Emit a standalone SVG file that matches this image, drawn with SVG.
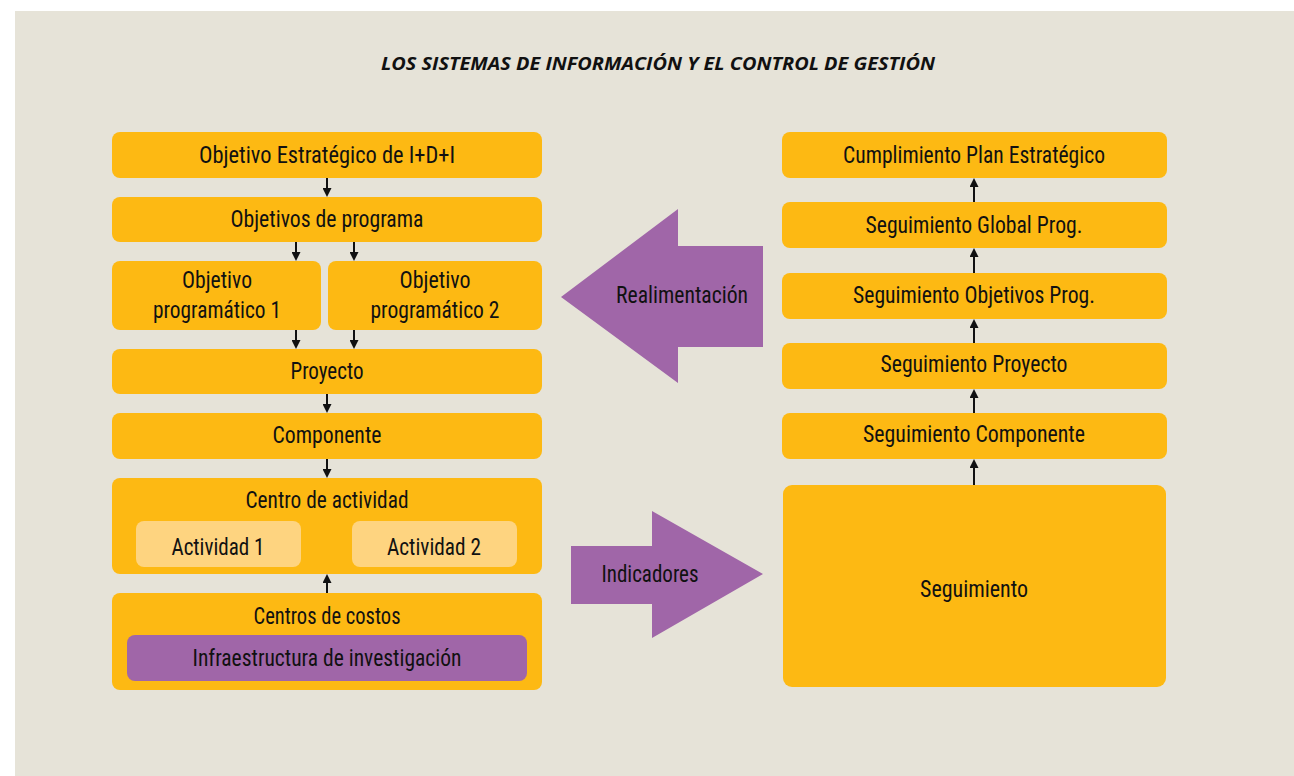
<svg xmlns="http://www.w3.org/2000/svg" width="1294" height="776" viewBox="0 0 1294 776">
  <defs>
    <style>
      .box { fill: #FDB913; }
      .sub { fill: #FED480; }
      .pur { fill: #A066A8; }
      .lbl { font-family: "Liberation Sans Narrow", "Roboto Condensed", "DejaVu Sans Condensed", "Liberation Sans", sans-serif; font-size: 24px; fill: #111; text-anchor: middle; }
      .ttl { font-family: "Open Sans", "Liberation Sans", sans-serif; font-size: 17px; font-weight: bold; font-style: italic; fill: #111; text-anchor: middle; }
      .con { stroke: #111; stroke-width: 2; fill: none; marker-end: url(#ah); }
    </style>
    <marker id="ah" viewBox="0 0 10 10" refX="7" refY="5" markerUnits="userSpaceOnUse" markerWidth="9" markerHeight="9" orient="auto">
      <path d="M0,0 L10,5 L0,10 z" fill="#111"/>
    </marker>
  </defs>

  <!-- page background -->
  <rect x="0" y="0" width="1294" height="776" fill="#ffffff"/>
  <rect x="15" y="11" width="1279" height="765" fill="#E6E3D8"/>

  <text class="ttl" x="658" y="70" textLength="554" lengthAdjust="spacingAndGlyphs">LOS SISTEMAS DE INFORMACIÓN Y EL CONTROL DE GESTIÓN</text>

  <!-- left column: planning hierarchy -->
  <g id="obj-estrategico">
    <rect class="box" x="112" y="132" width="430" height="46" rx="8"/>
    <text class="lbl" x="327" y="163" textLength="256" lengthAdjust="spacingAndGlyphs">Objetivo Estratégico de I+D+I</text>
  </g>
  <g id="obj-programa">
    <rect class="box" x="112" y="197" width="430" height="45" rx="8"/>
    <text class="lbl" x="327" y="227" textLength="193" lengthAdjust="spacingAndGlyphs">Objetivos de programa</text>
  </g>
  <g id="obj-prog-1">
    <rect class="box" x="112" y="261" width="209" height="69" rx="8"/>
    <text class="lbl" x="217" y="288" textLength="70" lengthAdjust="spacingAndGlyphs">Objetivo</text>
    <text class="lbl" x="217" y="318" textLength="128" lengthAdjust="spacingAndGlyphs">programático 1</text>
  </g>
  <g id="obj-prog-2">
    <rect class="box" x="328" y="261" width="214" height="69" rx="8"/>
    <text class="lbl" x="435" y="288" textLength="71" lengthAdjust="spacingAndGlyphs">Objetivo</text>
    <text class="lbl" x="435" y="318" textLength="129" lengthAdjust="spacingAndGlyphs">programático 2</text>
  </g>
  <g id="proyecto">
    <rect class="box" x="112" y="349" width="430" height="45" rx="8"/>
    <text class="lbl" x="327" y="379" textLength="73" lengthAdjust="spacingAndGlyphs">Proyecto</text>
  </g>
  <g id="componente">
    <rect class="box" x="112" y="413" width="430" height="46" rx="8"/>
    <text class="lbl" x="327" y="443" textLength="109" lengthAdjust="spacingAndGlyphs">Componente</text>
  </g>
  <g id="centro-actividad">
    <rect class="box" x="112" y="478" width="430" height="96" rx="8"/>
    <text class="lbl" x="327" y="508" textLength="163" lengthAdjust="spacingAndGlyphs">Centro de actividad</text>
    <rect class="sub" x="136" y="521" width="165" height="46" rx="8"/>
    <text class="lbl" x="218" y="555" textLength="93" lengthAdjust="spacingAndGlyphs">Actividad 1</text>
    <rect class="sub" x="352" y="521" width="165" height="46" rx="8"/>
    <text class="lbl" x="434" y="555" textLength="94" lengthAdjust="spacingAndGlyphs">Actividad 2</text>
  </g>
  <g id="centros-costos">
    <rect class="box" x="112" y="593" width="430" height="97" rx="8"/>
    <text class="lbl" x="327" y="624" textLength="147" lengthAdjust="spacingAndGlyphs">Centros de costos</text>
    <rect class="pur" x="127" y="635" width="400" height="46" rx="8"/>
    <text class="lbl" x="327" y="666" textLength="269" lengthAdjust="spacingAndGlyphs">Infraestructura de investigación</text>
  </g>

  <!-- big block arrows between the columns -->
  <g id="realimentacion">
    <polygon class="pur" points="561,297 678,209 678,246 763,246 763,347 678,347 678,383"/>
    <text class="lbl" x="682" y="303" textLength="132" lengthAdjust="spacingAndGlyphs">Realimentación</text>
  </g>
  <g id="indicadores">
    <polygon class="pur" points="571,546 652,546 652,511 763,574 652,638 652,604 571,604"/>
    <text class="lbl" x="650" y="582" textLength="97" lengthAdjust="spacingAndGlyphs">Indicadores</text>
  </g>

  <!-- right column: monitoring -->
  <g id="cumplimiento">
    <rect class="box" x="782" y="132" width="385" height="46" rx="8"/>
    <text class="lbl" x="974" y="163" textLength="262" lengthAdjust="spacingAndGlyphs">Cumplimiento Plan Estratégico</text>
  </g>
  <g id="seg-global">
    <rect class="box" x="782" y="202" width="385" height="46" rx="8"/>
    <text class="lbl" x="974" y="233" textLength="217" lengthAdjust="spacingAndGlyphs">Seguimiento Global Prog.</text>
  </g>
  <g id="seg-objetivos">
    <rect class="box" x="782" y="273" width="385" height="46" rx="8"/>
    <text class="lbl" x="974" y="303" textLength="242" lengthAdjust="spacingAndGlyphs">Seguimiento Objetivos Prog.</text>
  </g>
  <g id="seg-proyecto">
    <rect class="box" x="782" y="343" width="385" height="46" rx="8"/>
    <text class="lbl" x="974" y="372" textLength="187" lengthAdjust="spacingAndGlyphs">Seguimiento Proyecto</text>
  </g>
  <g id="seg-componente">
    <rect class="box" x="782" y="413" width="385" height="46" rx="8"/>
    <text class="lbl" x="974" y="442" textLength="222" lengthAdjust="spacingAndGlyphs">Seguimiento Componente</text>
  </g>
  <g id="seguimiento">
    <rect class="box" x="783" y="485" width="383" height="202" rx="9"/>
    <text class="lbl" x="974" y="597" textLength="108" lengthAdjust="spacingAndGlyphs">Seguimiento</text>
  </g>

  <!-- connectors -->
  <g id="connectors">
    <line class="con" x1="327" y1="178" x2="327" y2="194.3"/>
    <line class="con" x1="296" y1="242" x2="296" y2="258.3"/>
    <line class="con" x1="354" y1="242" x2="354" y2="258.3"/>
    <line class="con" x1="296" y1="330" x2="296" y2="346.3"/>
    <line class="con" x1="354" y1="330" x2="354" y2="346.3"/>
    <line class="con" x1="327" y1="394" x2="327" y2="410.3"/>
    <line class="con" x1="327" y1="459" x2="327" y2="475.3"/>
    <line class="con" x1="327" y1="593" x2="327" y2="576.7"/>
    <line class="con" x1="974" y1="485" x2="974" y2="461.7"/>
    <line class="con" x1="974" y1="413" x2="974" y2="391.7"/>
    <line class="con" x1="974" y1="343" x2="974" y2="321.7"/>
    <line class="con" x1="974" y1="273" x2="974" y2="250.7"/>
    <line class="con" x1="974" y1="202" x2="974" y2="180.7"/>
  </g>
</svg>
